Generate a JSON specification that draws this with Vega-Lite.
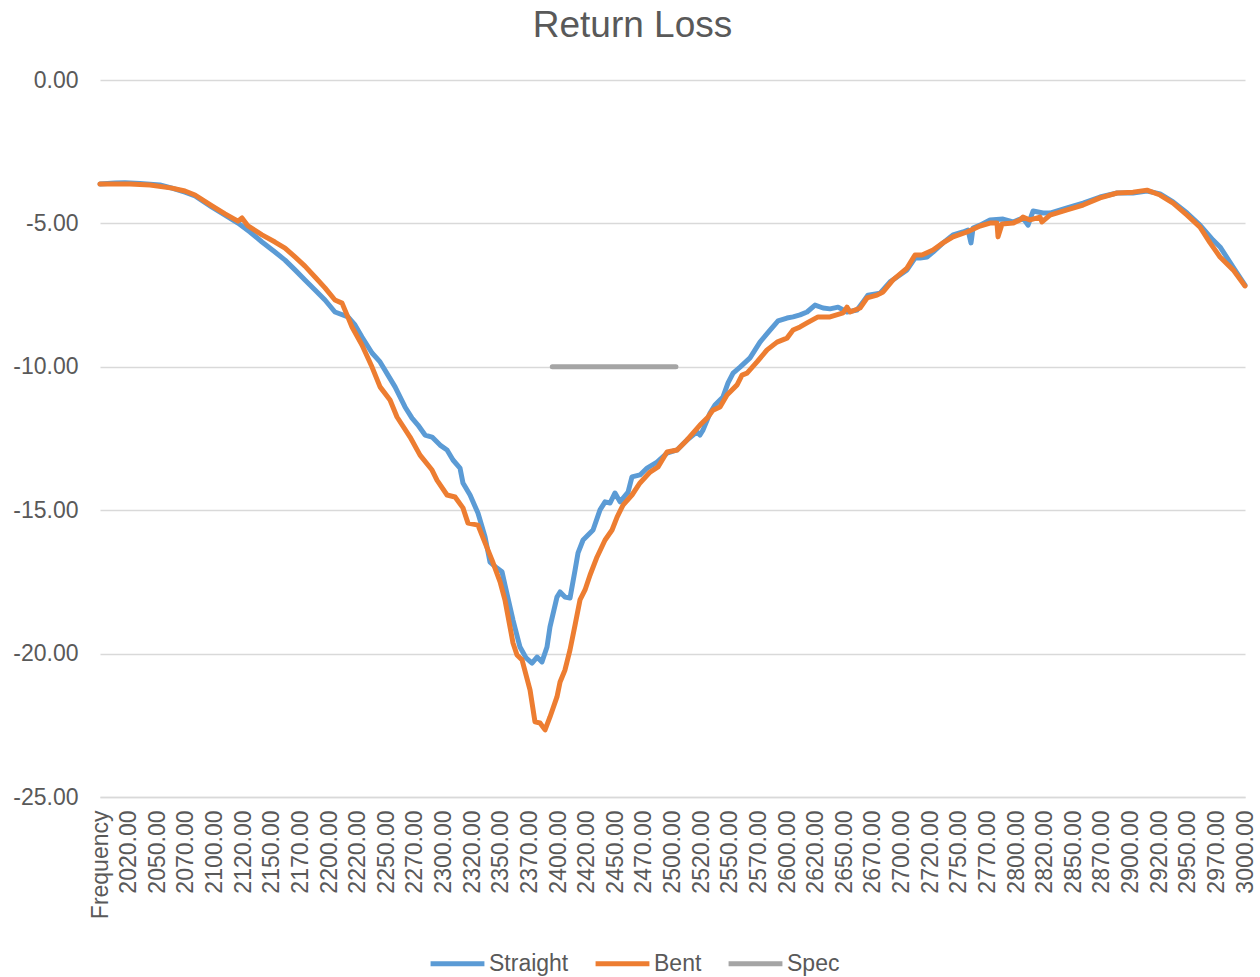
{
"$schema":"https://vega.github.io/schema/vega-lite/v6.json",
"width":1145,"height":717,
"autosize":{"type":"none"},
"padding":{"left":100,"top":80,"right":15,"bottom":180},
"background":"white",
"title":{"text":"Return Loss","fontSize":37,"font":"Liberation Sans","fontWeight":"normal","color":"#595959","anchor":"middle","dx":-40,"dy":5,"offset":0,"baseline":"alphabetic"},
"data":{"values":[
{"s":"Straight","f":2000,"v":-3.63},{"s":"Straight","f":2013.1,"v":-3.59},{"s":"Straight","f":2021.8,"v":-3.58},{"s":"Straight","f":2034.9,"v":-3.61},{"s":"Straight","f":2052.4,"v":-3.66},{"s":"Straight","f":2062.9,"v":-3.77},{"s":"Straight","f":2074.2,"v":-3.91},{"s":"Straight","f":2083.0,"v":-4.04},{"s":"Straight","f":2097.8,"v":-4.43},{"s":"Straight","f":2109.2,"v":-4.71},{"s":"Straight","f":2120.5,"v":-4.99},{"s":"Straight","f":2131.0,"v":-5.30},{"s":"Straight","f":2141.5,"v":-5.65},{"s":"Straight","f":2152.8,"v":-6.00},{"s":"Straight","f":2161.6,"v":-6.28},{"s":"Straight","f":2170.3,"v":-6.62},{"s":"Straight","f":2179.0,"v":-6.97},{"s":"Straight","f":2187.8,"v":-7.32},{"s":"Straight","f":2196.5,"v":-7.67},{"s":"Straight","f":2205.2,"v":-8.09},{"s":"Straight","f":2216.6,"v":-8.26},{"s":"Straight","f":2222.7,"v":-8.54},{"s":"Straight","f":2228.8,"v":-8.96},{"s":"Straight","f":2237.6,"v":-9.52},{"s":"Straight","f":2244.6,"v":-9.83},{"s":"Straight","f":2251.5,"v":-10.29},{"s":"Straight","f":2257.7,"v":-10.70},{"s":"Straight","f":2266.4,"v":-11.40},{"s":"Straight","f":2272.5,"v":-11.79},{"s":"Straight","f":2277.7,"v":-12.03},{"s":"Straight","f":2283.9,"v":-12.38},{"s":"Straight","f":2290.0,"v":-12.45},{"s":"Straight","f":2297.0,"v":-12.73},{"s":"Straight","f":2303.1,"v":-12.90},{"s":"Straight","f":2308.3,"v":-13.25},{"s":"Straight","f":2314.4,"v":-13.53},{"s":"Straight","f":2317.0,"v":-14.05},{"s":"Straight","f":2323.2,"v":-14.47},{"s":"Straight","f":2330.1,"v":-15.10},{"s":"Straight","f":2336.3,"v":-15.93},{"s":"Straight","f":2340.6,"v":-16.81},{"s":"Straight","f":2346.7,"v":-17.02},{"s":"Straight","f":2351.1,"v":-17.15},{"s":"Straight","f":2353.7,"v":-17.61},{"s":"Straight","f":2360.7,"v":-18.83},{"s":"Straight","f":2366.8,"v":-19.77},{"s":"Straight","f":2372.1,"v":-20.15},{"s":"Straight","f":2377.3,"v":-20.33},{"s":"Straight","f":2381.7,"v":-20.12},{"s":"Straight","f":2386.0,"v":-20.29},{"s":"Straight","f":2390.4,"v":-19.77},{"s":"Straight","f":2393.0,"v":-19.07},{"s":"Straight","f":2399.1,"v":-18.03},{"s":"Straight","f":2401.8,"v":-17.85},{"s":"Straight","f":2406.1,"v":-18.03},{"s":"Straight","f":2410.5,"v":-18.06},{"s":"Straight","f":2414.9,"v":-17.09},{"s":"Straight","f":2417.5,"v":-16.49},{"s":"Straight","f":2421.9,"v":-16.04},{"s":"Straight","f":2430.6,"v":-15.69},{"s":"Straight","f":2436.7,"v":-14.99},{"s":"Straight","f":2441.1,"v":-14.71},{"s":"Straight","f":2445.4,"v":-14.75},{"s":"Straight","f":2449.8,"v":-14.40},{"s":"Straight","f":2454.2,"v":-14.71},{"s":"Straight","f":2461.2,"v":-14.37},{"s":"Straight","f":2464.6,"v":-13.84},{"s":"Straight","f":2471.6,"v":-13.77},{"s":"Straight","f":2477.8,"v":-13.53},{"s":"Straight","f":2486.5,"v":-13.32},{"s":"Straight","f":2495.2,"v":-13.01},{"s":"Straight","f":2504.0,"v":-12.90},{"s":"Straight","f":2512.7,"v":-12.55},{"s":"Straight","f":2521.4,"v":-12.27},{"s":"Straight","f":2524.0,"v":-12.38},{"s":"Straight","f":2526.7,"v":-12.20},{"s":"Straight","f":2532.8,"v":-11.61},{"s":"Straight","f":2537.1,"v":-11.33},{"s":"Straight","f":2544.1,"v":-11.05},{"s":"Straight","f":2548.5,"v":-10.56},{"s":"Straight","f":2552.9,"v":-10.22},{"s":"Straight","f":2559.0,"v":-10.01},{"s":"Straight","f":2567.7,"v":-9.69},{"s":"Straight","f":2576.4,"v":-9.14},{"s":"Straight","f":2585.2,"v":-8.72},{"s":"Straight","f":2592.2,"v":-8.40},{"s":"Straight","f":2600.0,"v":-8.30},{"s":"Straight","f":2605.3,"v":-8.26},{"s":"Straight","f":2611.4,"v":-8.19},{"s":"Straight","f":2617.5,"v":-8.09},{"s":"Straight","f":2624.5,"v":-7.85},{"s":"Straight","f":2631.5,"v":-7.95},{"s":"Straight","f":2637.6,"v":-7.98},{"s":"Straight","f":2644.6,"v":-7.92},{"s":"Straight","f":2652.4,"v":-8.09},{"s":"Straight","f":2661.2,"v":-8.02},{"s":"Straight","f":2666.4,"v":-7.74},{"s":"Straight","f":2670.8,"v":-7.50},{"s":"Straight","f":2681.3,"v":-7.43},{"s":"Straight","f":2690.0,"v":-7.04},{"s":"Straight","f":2696.1,"v":-6.87},{"s":"Straight","f":2704.8,"v":-6.62},{"s":"Straight","f":2711.8,"v":-6.21},{"s":"Straight","f":2716.2,"v":-6.21},{"s":"Straight","f":2722.3,"v":-6.17},{"s":"Straight","f":2727.5,"v":-6.00},{"s":"Straight","f":2736.3,"v":-5.68},{"s":"Straight","f":2745.0,"v":-5.40},{"s":"Straight","f":2753.7,"v":-5.30},{"s":"Straight","f":2758.1,"v":-5.23},{"s":"Straight","f":2760.7,"v":-5.68},{"s":"Straight","f":2762.5,"v":-5.16},{"s":"Straight","f":2768.6,"v":-5.06},{"s":"Straight","f":2777.3,"v":-4.88},{"s":"Straight","f":2788.7,"v":-4.85},{"s":"Straight","f":2797.4,"v":-4.95},{"s":"Straight","f":2806.1,"v":-4.81},{"s":"Straight","f":2810.5,"v":-5.06},{"s":"Straight","f":2814.9,"v":-4.57},{"s":"Straight","f":2823.6,"v":-4.64},{"s":"Straight","f":2829.7,"v":-4.64},{"s":"Straight","f":2844.6,"v":-4.46},{"s":"Straight","f":2858.6,"v":-4.29},{"s":"Straight","f":2873.4,"v":-4.08},{"s":"Straight","f":2888.3,"v":-3.94},{"s":"Straight","f":2902.2,"v":-3.94},{"s":"Straight","f":2914.4,"v":-3.87},{"s":"Straight","f":2925.8,"v":-3.97},{"s":"Straight","f":2937.2,"v":-4.25},{"s":"Straight","f":2949.4,"v":-4.64},{"s":"Straight","f":2960.7,"v":-5.06},{"s":"Straight","f":2972.1,"v":-5.58},{"s":"Straight","f":2978.2,"v":-5.82},{"s":"Straight","f":2989.6,"v":-6.52},{"s":"Straight","f":3000,"v":-7.15},
{"s":"Bent","f":2000,"v":-3.63},{"s":"Bent","f":2013.1,"v":-3.63},{"s":"Bent","f":2026.2,"v":-3.63},{"s":"Bent","f":2043.7,"v":-3.66},{"s":"Bent","f":2062.9,"v":-3.77},{"s":"Bent","f":2074.2,"v":-3.87},{"s":"Bent","f":2083.0,"v":-4.01},{"s":"Bent","f":2097.8,"v":-4.39},{"s":"Bent","f":2109.2,"v":-4.67},{"s":"Bent","f":2120.5,"v":-4.92},{"s":"Bent","f":2124.0,"v":-4.81},{"s":"Bent","f":2129.3,"v":-5.09},{"s":"Bent","f":2141.5,"v":-5.40},{"s":"Bent","f":2152.8,"v":-5.65},{"s":"Bent","f":2161.6,"v":-5.86},{"s":"Bent","f":2170.3,"v":-6.17},{"s":"Bent","f":2179.0,"v":-6.49},{"s":"Bent","f":2187.8,"v":-6.87},{"s":"Bent","f":2196.5,"v":-7.25},{"s":"Bent","f":2205.2,"v":-7.67},{"s":"Bent","f":2211.4,"v":-7.78},{"s":"Bent","f":2215.7,"v":-8.19},{"s":"Bent","f":2220.1,"v":-8.61},{"s":"Bent","f":2228.8,"v":-9.24},{"s":"Bent","f":2237.6,"v":-10.01},{"s":"Bent","f":2244.6,"v":-10.70},{"s":"Bent","f":2253.3,"v":-11.16},{"s":"Bent","f":2259.4,"v":-11.75},{"s":"Bent","f":2270.8,"v":-12.45},{"s":"Bent","f":2279.5,"v":-13.08},{"s":"Bent","f":2290.0,"v":-13.60},{"s":"Bent","f":2294.3,"v":-13.95},{"s":"Bent","f":2303.1,"v":-14.47},{"s":"Bent","f":2310.1,"v":-14.54},{"s":"Bent","f":2317.0,"v":-14.92},{"s":"Bent","f":2321.4,"v":-15.45},{"s":"Bent","f":2330.1,"v":-15.52},{"s":"Bent","f":2336.3,"v":-16.14},{"s":"Bent","f":2342.4,"v":-16.74},{"s":"Bent","f":2349.4,"v":-17.50},{"s":"Bent","f":2353.7,"v":-18.13},{"s":"Bent","f":2360.7,"v":-19.63},{"s":"Bent","f":2364.2,"v":-20.05},{"s":"Bent","f":2368.6,"v":-20.22},{"s":"Bent","f":2375.6,"v":-21.27},{"s":"Bent","f":2379.9,"v":-22.38},{"s":"Bent","f":2384.3,"v":-22.42},{"s":"Bent","f":2388.7,"v":-22.66},{"s":"Bent","f":2393.0,"v":-22.21},{"s":"Bent","f":2399.1,"v":-21.51},{"s":"Bent","f":2401.8,"v":-20.99},{"s":"Bent","f":2406.1,"v":-20.57},{"s":"Bent","f":2410.5,"v":-19.87},{"s":"Bent","f":2414.9,"v":-19.00},{"s":"Bent","f":2419.2,"v":-18.13},{"s":"Bent","f":2423.6,"v":-17.78},{"s":"Bent","f":2428.0,"v":-17.26},{"s":"Bent","f":2434.1,"v":-16.63},{"s":"Bent","f":2441.1,"v":-16.04},{"s":"Bent","f":2447.2,"v":-15.69},{"s":"Bent","f":2451.6,"v":-15.24},{"s":"Bent","f":2456.8,"v":-14.82},{"s":"Bent","f":2464.6,"v":-14.47},{"s":"Bent","f":2471.6,"v":-14.05},{"s":"Bent","f":2480.4,"v":-13.67},{"s":"Bent","f":2487.4,"v":-13.49},{"s":"Bent","f":2495.2,"v":-12.97},{"s":"Bent","f":2504.0,"v":-12.90},{"s":"Bent","f":2512.7,"v":-12.55},{"s":"Bent","f":2524.0,"v":-12.03},{"s":"Bent","f":2530.2,"v":-11.79},{"s":"Bent","f":2535.4,"v":-11.51},{"s":"Bent","f":2541.5,"v":-11.40},{"s":"Bent","f":2547.6,"v":-10.98},{"s":"Bent","f":2556.4,"v":-10.63},{"s":"Bent","f":2560.7,"v":-10.29},{"s":"Bent","f":2565.1,"v":-10.22},{"s":"Bent","f":2573.8,"v":-9.83},{"s":"Bent","f":2582.6,"v":-9.41},{"s":"Bent","f":2591.3,"v":-9.14},{"s":"Bent","f":2600.0,"v":-9.00},{"s":"Bent","f":2605.3,"v":-8.72},{"s":"Bent","f":2611.4,"v":-8.61},{"s":"Bent","f":2617.5,"v":-8.47},{"s":"Bent","f":2627.1,"v":-8.26},{"s":"Bent","f":2637.6,"v":-8.26},{"s":"Bent","f":2649.0,"v":-8.12},{"s":"Bent","f":2652.4,"v":-7.92},{"s":"Bent","f":2655.1,"v":-8.09},{"s":"Bent","f":2663.8,"v":-7.95},{"s":"Bent","f":2669.9,"v":-7.60},{"s":"Bent","f":2678.6,"v":-7.50},{"s":"Bent","f":2683.9,"v":-7.39},{"s":"Bent","f":2692.6,"v":-6.97},{"s":"Bent","f":2704.8,"v":-6.56},{"s":"Bent","f":2711.8,"v":-6.10},{"s":"Bent","f":2717.9,"v":-6.10},{"s":"Bent","f":2727.5,"v":-5.93},{"s":"Bent","f":2736.3,"v":-5.68},{"s":"Bent","f":2745.0,"v":-5.47},{"s":"Bent","f":2757.2,"v":-5.30},{"s":"Bent","f":2768.6,"v":-5.09},{"s":"Bent","f":2777.3,"v":-4.99},{"s":"Bent","f":2783.4,"v":-4.99},{"s":"Bent","f":2784.3,"v":-5.47},{"s":"Bent","f":2787.8,"v":-5.02},{"s":"Bent","f":2797.4,"v":-4.99},{"s":"Bent","f":2803.5,"v":-4.88},{"s":"Bent","f":2806.1,"v":-4.78},{"s":"Bent","f":2812.3,"v":-4.88},{"s":"Bent","f":2821.0,"v":-4.78},{"s":"Bent","f":2822.7,"v":-4.95},{"s":"Bent","f":2829.7,"v":-4.71},{"s":"Bent","f":2844.6,"v":-4.53},{"s":"Bent","f":2858.6,"v":-4.36},{"s":"Bent","f":2873.4,"v":-4.11},{"s":"Bent","f":2888.3,"v":-3.94},{"s":"Bent","f":2902.2,"v":-3.91},{"s":"Bent","f":2914.4,"v":-3.84},{"s":"Bent","f":2925.8,"v":-4.01},{"s":"Bent","f":2937.2,"v":-4.29},{"s":"Bent","f":2949.4,"v":-4.71},{"s":"Bent","f":2960.7,"v":-5.13},{"s":"Bent","f":2969.5,"v":-5.68},{"s":"Bent","f":2978.2,"v":-6.17},{"s":"Bent","f":2989.6,"v":-6.62},{"s":"Bent","f":3000,"v":-7.18},
{"s":"Spec","f":2395,"v":-10},{"s":"Spec","f":2503,"v":-10}
]},
"mark":{"type":"line","strokeWidth":5,"strokeCap":"round","strokeJoin":"round"},
"encoding":{
"x":{"field":"f","type":"quantitative","scale":{"domain":[2000,3000],"nice":false,"zero":false},
"axis":{"title":null,"values":[2000,2025,2050,2075,2100,2125,2150,2175,2200,2225,2250,2275,2300,2325,2350,2375,2400,2425,2450,2475,2500,2525,2550,2575,2600,2625,2650,2675,2700,2725,2750,2775,2800,2825,2850,2875,2900,2925,2950,2975,3000],
"labelExpr":"['Frequency','2020.00','2050.00','2070.00','2100.00','2120.00','2150.00','2170.00','2200.00','2220.00','2250.00','2270.00','2300.00','2320.00','2350.00','2370.00','2400.00','2420.00','2450.00','2470.00','2500.00','2520.00','2550.00','2570.00','2600.00','2620.00','2650.00','2670.00','2700.00','2720.00','2750.00','2770.00','2800.00','2820.00','2850.00','2870.00','2900.00','2920.00','2950.00','2970.00','3000.00'][round((datum.value-2000)/25)]",
"labelAngle":-90,"labelAlign":"right","labelBaseline":"middle","labelFontSize":23,"labelFont":"Liberation Sans","labelColor":"#595959","labelPadding":13,"ticks":false,"tickSize":0,"grid":false,"domainColor":"#D9D9D9","domainWidth":1.5,"labelOverlap":false,"labelFlush":false,"labelBound":false}},
"y":{"field":"v","type":"quantitative","scale":{"domain":[-25,0],"nice":false,"zero":false},
"axis":{"title":null,"values":[0,-5,-10,-15,-20,-25],"labelExpr":"replace(format(datum.value,'.2f'),'\u2212','-')","grid":true,"gridColor":"#D9D9D9","gridWidth":1.5,"domain":false,"ticks":false,"tickSize":0,"labelPadding":22,"labelFontSize":23,"labelFont":"Liberation Sans","labelColor":"#595959"}},
"color":{"field":"s","type":"nominal","scale":{"domain":["Straight","Bent","Spec"],"range":["#5B9BD5","#ED7D31","#A5A5A5"]},
"legend":{"title":null,"orient":"none","legendX":328,"legendY":854,"direction":"horizontal","symbolType":"stroke","symbolSize":2900,"symbolStrokeWidth":5,"labelFontSize":23,"labelFont":"Liberation Sans","labelColor":"#595959","columnPadding":16,"labelOffset":2,"padding":0}}
},
"config":{"view":{"stroke":null}}
}
